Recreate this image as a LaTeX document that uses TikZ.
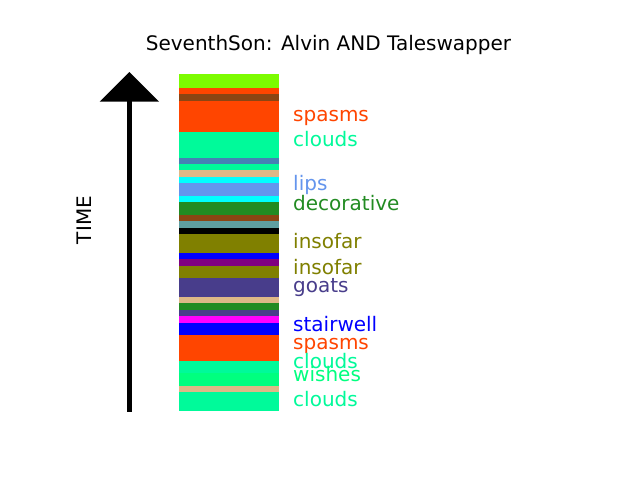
\documentclass[tikz,border=0pt]{standalone}
\usepackage{fontspec}
\setmainfont{DejaVu Sans}
\definecolor{lawngreen}{HTML}{7CFC00}
\definecolor{orangered}{HTML}{FF4500}
\definecolor{saddlebrown}{HTML}{8B4513}
\definecolor{mspringgreen}{HTML}{00FA9A}
\definecolor{springgreen}{HTML}{00FF7F}
\definecolor{steelblue}{HTML}{4682B4}
\definecolor{burlywood}{HTML}{DEB887}
\definecolor{cyanc}{HTML}{00FFFF}
\definecolor{cornflowerblue}{HTML}{6495ED}
\definecolor{forestgreen}{HTML}{228B22}
\definecolor{cadetblue}{HTML}{5F9EA0}
\definecolor{olivec}{HTML}{808000}
\definecolor{bluec}{HTML}{0000FF}
\definecolor{purplec}{HTML}{800080}
\definecolor{darkslateblue}{HTML}{483D8B}
\definecolor{magentac}{HTML}{FF00FF}
\tikzset{
  lbl/.style={anchor=base west, inner sep=0pt, font=\fontsize{20}{24}\selectfont},
  ttl/.style={anchor=base, inner sep=0pt, font=\fontsize{20}{24}\selectfont},
}
\begin{document}
\begin{tikzpicture}[x=1pt,y=-1pt]
\useasboundingbox[fill=white] (0,0) rectangle (640,480);
\node[ttl] (title) at (328.5,50) {SeventhSon: Alvin AND Taleswapper};
\node[ttl, rotate=90] (time) at (91,220) {TIME};
% arrow
\fill[black] (126.8,412) rectangle (131.8,101);
\fill[black] (129.3,72) -- (159,101.7) -- (99.6,101.7) -- cycle;
% bar stripes
\foreach \a/\b/\c in {
74/88/lawngreen, 88/94/orangered, 94/101/saddlebrown, 101/132/orangered,
132/158/mspringgreen, 158/164/steelblue, 164/170/mspringgreen, 170/177/burlywood,
177/183/cyanc, 183/196/cornflowerblue, 196/202/cyanc, 202/215/forestgreen,
215/221/saddlebrown, 221/228/cadetblue, 228/234/black, 234/253/olivec,
253/259/bluec, 259/266/purplec, 266/278/olivec, 278/297/darkslateblue,
297/303/burlywood, 303/310/forestgreen, 310/316/darkslateblue, 316/323/magentac,
323/335/bluec, 335/361/orangered, 361/373/mspringgreen, 373/386/springgreen,
386/392/burlywood, 392/410.5/mspringgreen}
  \fill[\c] (179,\a) rectangle (278.6,\b);
% labels
\node[lbl, text=orangered] (l1) at (293,121.5) {spasms};
\node[lbl, text=mspringgreen] (l2) at (293,146.5) {clouds};
\node[lbl, text=cornflowerblue] (l3) at (293,190.5) {lips};
\node[lbl, text=forestgreen] (l4) at (293,210) {decorative};
\node[lbl, text=olivec] (l5) at (293,248) {insofar};
\node[lbl, text=olivec] (l6) at (293,274) {insofar};
\node[lbl, text=darkslateblue] (l7) at (293,292.5) {goats};
\node[lbl, text=bluec] (l8) at (293,331) {stairwell};
\node[lbl, text=orangered] (l9) at (293,349.5) {spasms};
\node[lbl, text=mspringgreen] (l10) at (293,368.5) {clouds};
\node[lbl, text=springgreen] (l11) at (293,381.5) {wishes};
\node[lbl, text=mspringgreen] (l12) at (293,406) {clouds};
\end{tikzpicture}
\end{document}
